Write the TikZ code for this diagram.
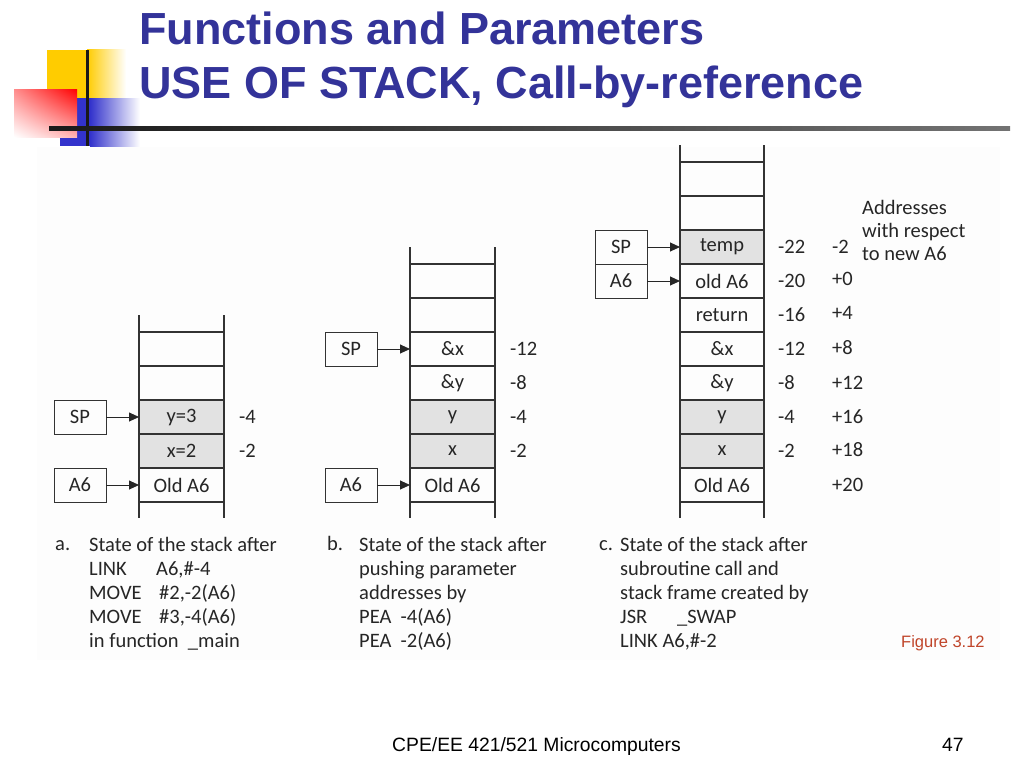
\documentclass[tikz,border=0pt]{standalone}
\usepackage{fontspec}
\setmainfont{Carlito}
\newfontfamily\arialfont{Liberation Sans}
\usepackage{tikz}
\usetikzlibrary{positioning,arrows.meta,shadings}
\definecolor{titleblue}{HTML}{333399}
\definecolor{figred}{HTML}{C0452A}
\definecolor{cellgray}{HTML}{E2E2E2}
\definecolor{logoyellow}{HTML}{FFCC00}
\definecolor{logoblue}{HTML}{3333CC}
\definecolor{panel}{HTML}{FDFDFD}

\begin{document}
\begin{tikzpicture}[
  x=1pt, y=-1pt,
  node distance=0pt,
  txt/.style={font=\fontsize{20.5}{24}\selectfont, text=black!85},
  cell/.style={txt, draw=black!80, line width=1.1pt, minimum width=85pt, minimum height=34pt, inner sep=0pt, outer sep=0pt},
  used/.style={cell, fill=cellgray},
  reg/.style={txt, draw=black!80, line width=0.9pt, minimum width=52pt, minimum height=34pt, inner sep=0pt, outer sep=0pt},
  off/.style={txt, inner sep=0pt},
  arr/.style={-{Triangle[length=10pt,width=9pt]}, line width=0.9pt, black!85},
  stub/.style={draw=black!80, line width=1.1pt},
  capt/.style={txt, align=left, inner sep=0pt, anchor=north west},
  lab/.style={txt, inner sep=0pt, anchor=base west}
]
\useasboundingbox (0,0) rectangle (1024,768);
\fill[panel] (37,147) rectangle (1000,660);

% logo
\fill[logoyellow] (47,50) rectangle (87,98);
\shade[left color=logoyellow, right color=white] (87,50) rectangle (126,98);
\fill[logoblue] (60,98) rectangle (90,146);
\shade[left color=logoblue, right color=white] (90,98) rectangle (140,146);
\shade[upper left=red!45, upper right=red, lower left=white, lower right=red!30] (14,137) rectangle (77,89);
\fill[black!90] (86,50) rectangle (89,146);
\shade[left color=black!90, right color=black!55] (49,126) rectangle (1010,130);

\node[anchor=base west, inner sep=0pt, text=titleblue, font=\arialfont\bfseries\fontsize{45}{54}\selectfont] (title1) at (139,45) {Functions and Parameters};
\node[anchor=base west, inner sep=0pt, text=titleblue, font=\arialfont\bfseries\fontsize{45}{54}\selectfont] (title2) at (139,98) {USE OF STACK, Call-by-reference};

% stack a
\node[cell] (aold) at (181.5,485) {Old A6};
\node[used, above=of aold] (ax) {x=2};
\node[used, above=of ax] (ay) {y=3};
\node[cell, above=of ay] (ae1) {};
\node[cell, above=of ae1] (ae2) {};
\path[stub] (ae2.north west) -- ++(0,-17) (ae2.north east) -- ++(0,-17);
\path[stub] (aold.south west) -- ++(0,16) (aold.south east) -- ++(0,16);
\node[reg, left=33pt of ay] (asp) {SP};
\node[reg, left=33pt of aold] (aa6) {A6};
\draw[arr] (asp) -- (ay);
\draw[arr] (aa6) -- (aold);
\node[off, right=15pt of ay] (aoffy) {-4};
\node[off, right=15pt of ax] (aoffx) {-2};

% stack b
\node[cell] (bold) at (452.5,485) {Old A6};
\node[used, above=of bold] (bx) {x};
\node[used, above=of bx] (by) {y};
\node[cell, above=of by] (bay) {\&y};
\node[cell, above=of bay] (bax) {\&x};
\node[cell, above=of bax] (be1) {};
\node[cell, above=of be1] (be2) {};
\path[stub] (be2.north west) -- ++(0,-17) (be2.north east) -- ++(0,-17);
\path[stub] (bold.south west) -- ++(0,16) (bold.south east) -- ++(0,16);
\node[reg, left=33pt of bax] (bsp) {SP};
\node[reg, left=33pt of bold] (ba6) {A6};
\draw[arr] (bsp) -- (bax);
\draw[arr] (ba6) -- (bold);
\node[off, right=15pt of bax] (boffax) {-12};
\node[off, right=15pt of bay] (boffay) {-8};
\node[off, right=15pt of by] (boffy) {-4};
\node[off, right=15pt of bx] (boffx) {-2};

% stack c
\node[cell, minimum width=84pt] (cold) at (722,485) {Old A6};
\node[used, minimum width=84pt, above=of cold] (cx) {x};
\node[used, minimum width=84pt, above=of cx] (cy) {y};
\node[cell, minimum width=84pt, above=of cy] (cay) {\&y};
\node[cell, minimum width=84pt, above=of cay] (cax) {\&x};
\node[cell, minimum width=84pt, above=of cax] (cret) {return};
\node[cell, minimum width=84pt, above=of cret] (colda) {old A6};
\node[used, minimum width=84pt, above=of colda] (ctemp) {temp};
\node[cell, minimum width=84pt, above=of ctemp] (ce1) {};
\node[cell, minimum width=84pt, above=of ce1] (ce2) {};
\path[stub] (ce2.north west) -- ++(0,-17) (ce2.north east) -- ++(0,-17);
\path[stub] (cold.south west) -- ++(0,16) (cold.south east) -- ++(0,16);
\node[reg, left=33pt of ctemp] (csp) {SP};
\node[reg, left=33pt of colda] (ca6) {A6};
\draw[arr] (csp) -- (ctemp);
\draw[arr] (ca6) -- (colda);
\node[off, right=14pt of ctemp] (coldtemp) {-22};
\node[off, right=14pt of colda] (coldolda) {-20};
\node[off, right=14pt of cret] (coldret) {-16};
\node[off, right=14pt of cax] (coldax) {-12};
\node[off, right=14pt of cay] (colday) {-8};
\node[off, right=14pt of cy] (coldy) {-4};
\node[off, right=14pt of cx] (coldx) {-2};
\node[off, right=68pt of ctemp] (cnewtemp) {-2};
\node[off, right=68pt of colda, yshift=2pt] (cnewolda) {+0};
\node[off, right=68pt of cret, yshift=2pt] (cnewret) {+4};
\node[off, right=68pt of cax, yshift=1pt] (cnewax) {+8};
\node[off, right=68pt of cay] (cnewy0) {+12};
\node[off, right=68pt of cy] (cnewy) {+16};
\node[off, right=68pt of cx, yshift=1pt] (cnewx) {+18};
\node[off, right=68pt of cold] (cnewold) {+20};
\node[capt, font=\fontsize{20.5}{23}\selectfont] (cnote) at (862,200) {Addresses\\with respect\\to new A6};

% captions
\node[lab] (alab) at (55,550) {a.};
\node[capt] (acap) at (89,537) {State of the stack after\\\makebox[67pt][l]{LINK}A6,\#-4\\\makebox[70pt][l]{MOVE}\#2,-2(A6)\\\makebox[70pt][l]{MOVE}\#3,-4(A6)\\in function\ \ \_main};
\node[lab] (blab) at (327,550) {b.};
\node[capt] (bcap) at (359,537) {State of the stack after\\pushing parameter\\addresses by\\PEA\ \ -4(A6)\\PEA\ \ -2(A6)};
\node[lab] (clab) at (599,550) {c.};
\node[capt] (ccap) at (620,537) {State of the stack after\\subroutine call and\\stack frame created by\\\makebox[57pt][l]{JSR}\_SWAP\\LINK A6,\#-2};
\node[anchor=base west, inner sep=0pt, text=figred, font=\arialfont\fontsize{16.5}{20}\selectfont] (fig) at (901,647) {Figure 3.12};

% footer
\node[anchor=base west, inner sep=0pt, font=\arialfont\fontsize{19.3}{23}\selectfont] (foot) at (392,751) {CPE/EE 421/521 Microcomputers};
\node[anchor=base west, inner sep=0pt, font=\arialfont\fontsize{19.3}{23}\selectfont] (page) at (942,751) {47};
\end{tikzpicture}
\end{document}
